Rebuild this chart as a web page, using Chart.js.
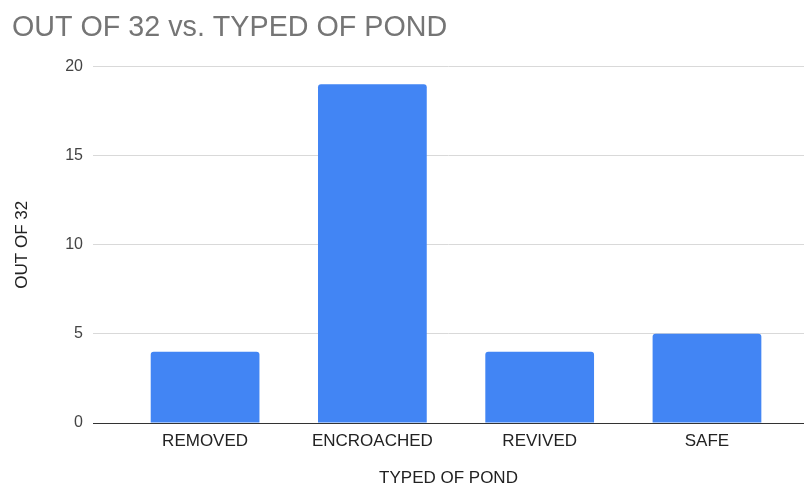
<!DOCTYPE html>
<html>
<head>
<meta charset="utf-8">
<script src="https://cdn.jsdelivr.net/npm/chart.js@4/dist/chart.umd.min.js"></script>
<style>
  html, body { margin: 0; padding: 0; background: #fff; }
  #wrap { width: 804px; height: 489px; position: relative; }
</style>
</head>
<body>
<div id="wrap"><canvas id="c"></canvas></div>
<script>
// Pond survey: how many of 32 ponds fall into each type
const pondTypes = ['REMOVED', 'ENCROACHED', 'REVIVED', 'SAFE'];
const pondCounts = [4, 19, 4, 5];
const yTickValues = [0, 5, 10, 15, 20];

const FONT = '"Liberation Sans", Arial, sans-serif';

new Chart(document.getElementById('c'), {
  type: 'bar',
  data: {
    datasets: [{
      label: 'OUT OF 32',
      data: pondCounts.map((v, i) => ({ x: i, y: v })),
      backgroundColor: '#4285F4',
      borderRadius: { topLeft: 3, topRight: 3, bottomLeft: 0, bottomRight: 0 },
      borderSkipped: 'start',
      barPercentage: 0.65,
      categoryPercentage: 1
    }]
  },
  options: {
    responsive: true,
    maintainAspectRatio: false,
    animation: false,
    layout: { padding: { left: 12, right: 0, top: 0, bottom: 0 } },
    plugins: {
      legend: { display: false },
      tooltip: { enabled: false },
      title: {
        display: true,
        text: 'OUT OF 32 vs. TYPED OF POND',
        align: 'start',
        color: '#757575',
        font: { family: FONT, size: 28.7, weight: 'normal' },
        padding: { top: 11, bottom: 21 }
      }
    },
    scales: {
      x: {
        type: 'linear',
        offset: false,
        min: -0.67,
        max: 3.58,
        z: 1,
        grid: { display: false, drawTicks: false },
        border: { display: true, color: '#333333', width: 1 },
        afterBuildTicks: (scale) => { scale.ticks = pondTypes.map((_, i) => ({ value: i })); },
        afterFit: (scale) => { scale.height = 66; },
        ticks: {
          autoSkip: false,
          maxRotation: 0,
          padding: 8,
          color: '#222222',
          font: { family: FONT, size: 17 },
          callback: (v) => pondTypes[v]
        },
        title: {
          display: true,
          text: 'TYPED OF POND',
          color: '#222222',
          font: { family: FONT, size: 17 },
          padding: { top: 0, bottom: 0 }
        }
      },
      y: {
        min: 0,
        max: 20,
        afterBuildTicks: (scale) => { scale.ticks = yTickValues.map(v => ({ value: v })); },
        afterFit: (scale) => { scale.width = 81; },
        grid: { color: '#d9d9d9', drawTicks: false, lineWidth: 1 },
        border: { display: false },
        ticks: {
          padding: 10,
          color: '#444444',
          font: { family: FONT, size: 16 }
        },
        title: {
          display: true,
          text: 'OUT OF 32',
          color: '#222222',
          font: { family: FONT, size: 17 },
          padding: { top: 0, bottom: 0 }
        }
      }
    }
  }
});
</script>
</body>
</html>
